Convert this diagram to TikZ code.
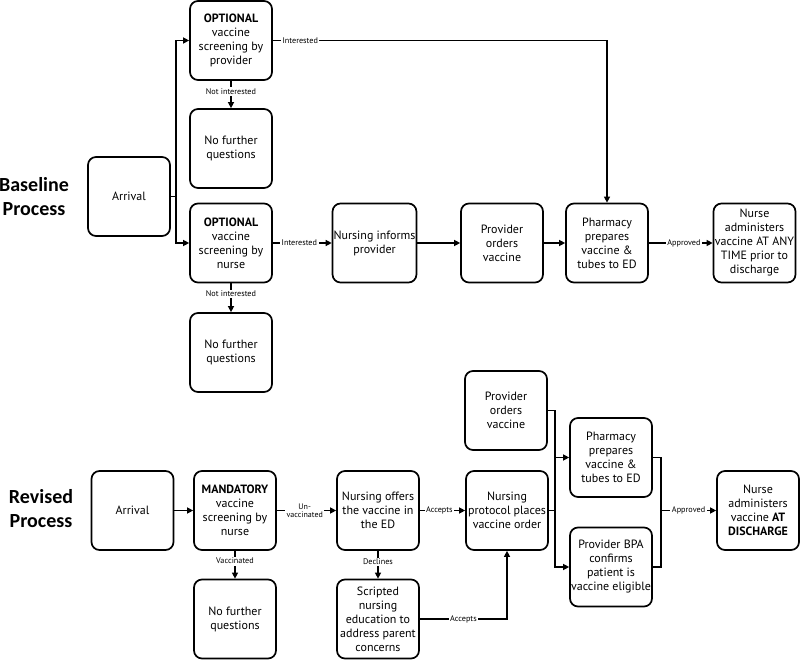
\documentclass[tikz,border=0pt]{standalone}
\usepackage{fontspec}
\setmainfont{PT Sans}
\newfontfamily\headfont{Carlito}
\usetikzlibrary{arrows.meta}
\begin{document}
\begin{tikzpicture}[x=1pt,y=-1pt,
 box/.style={draw, line width=1.7pt, rounded corners=8pt, minimum width=82pt, minimum height=79pt, align=center, font=\fontsize{12}{14}\selectfont, inner sep=1pt},
 lab/.style={fill=white, font=\fontsize{8.2}{8.5}\selectfont, inner sep=1.5pt, align=center},
 head/.style={font=\headfont\bfseries\fontsize{20}{24}\selectfont, align=center},
 conn/.style={line width=1.3pt},
 arr/.style={conn, -{Triangle[length=6pt,width=6pt]}},
]
\useasboundingbox (0,0) rectangle (800,660);
% headings
\node[head] (hb) at (34,197) {Baseline\\Process};
\node[head] (hr) at (41,509) {Revised\\Process};
% baseline nodes
\node[box] (b1) at (231,40.5) {\textbf{OPTIONAL}\\vaccine\\screening by\\provider};
\node[box] (nf1) at (231,148.5) {No further\\questions};
\node[box] (arr1) at (129,196.5) {Arrival};
\node[box] (b2) at (231,243) {\textbf{OPTIONAL}\\vaccine\\screening by\\nurse};
\node[box] (nf2) at (231,352.5) {No further\\questions};
\node[box] (inf) at (374.5,243) {Nursing informs\\provider};
\node[box] (po1) at (502,243) {Provider\\orders\\vaccine};
\node[box] (ph1) at (607,243) {Pharmacy\\prepares\\vaccine \&\\tubes to ED};
\node[box] (ad1) at (754.5,243) {Nurse\\administers\\vaccine AT ANY\\TIME prior to\\discharge};
% revised nodes
\node[box] (arr2) at (132.5,510.5) {Arrival};
\node[box] (mand) at (235,510.5) {\textbf{MANDATORY}\\vaccine\\screening by\\nurse};
\node[box] (nf3) at (235,619) {No further\\questions};
\node[box] (off) at (378,510.5) {Nursing offers\\the vaccine in\\the ED};
\node[box] (scr) at (378,619) {Scripted\\nursing\\education to\\address parent\\concerns};
\node[box] (prot) at (507,510.5) {Nursing\\protocol places\\vaccine order};
\node[box] (po2) at (506,410.5) {Provider\\orders\\vaccine};
\node[box] (ph2) at (611,457.5) {Pharmacy\\prepares\\vaccine \&\\tubes to ED};
\node[box] (bpa) at (611,567) {Provider BPA\\confirms\\patient is\\vaccine eligible};
\node[box] (ad2) at (758,510.5) {Nurse\\administers\\vaccine \textbf{AT}\\\textbf{DISCHARGE}};
% baseline connectors
\coordinate (j1) at (176,196.5);
\draw[conn] (arr1.east) -- (j1);
\draw[arr] (j1) |- (b1.west);
\draw[arr] (j1) |- (b2.west);
\draw[arr] (b1.east) -| node[lab,pos=0.041]{Interested} (ph1.north);
\draw[arr] (b1.south) -- node[lab,pos=0.4]{Not interested} (nf1.north);
\draw[arr] (b2.east) -- node[lab,pos=0.45]{Interested} (inf.west);
\draw[arr] (b2.south) -- node[lab,pos=0.37]{Not interested} (nf2.north);
\draw[arr] (inf.east) -- (po1.west);
\draw[arr] (po1.east) -- (ph1.west);
\draw[arr] (ph1.east) -- node[lab,pos=0.55]{Approved} (ad1.west);
% revised connectors
\draw[arr] (arr2.east) -- (mand.west);
\draw[arr] (mand.east) -- node[lab,pos=0.47,font=\fontsize{8}{8.5}\selectfont]{Un-\\vaccinated} (off.west);
\draw[arr] (mand.south) -- node[lab,pos=0.37]{Vaccinated} (nf3.north);
\draw[arr] (off.east) -- node[lab,pos=0.43]{Accepts} (prot.west);
\draw[arr] (off.south) -- node[lab,pos=0.4]{Declines} (scr.north);
\draw[arr] (scr.east) -| node[lab,pos=0.25]{Accepts} (prot.south);
\coordinate (j2) at (555,510.5);
\draw[conn] (prot.east) -- (j2);
\draw[arr] (po2.east) -| (j2) |- (bpa.west);
\draw[arr] (j2) |- (ph2.west);
\coordinate (j3) at (661,510.5);
\draw[conn] (ph2.east) -| (j3);
\draw[conn] (bpa.east) -| (j3);
\draw[arr] (j3) -- node[lab,pos=0.5]{Approved} (ad2.west);
\end{tikzpicture}
\end{document}
